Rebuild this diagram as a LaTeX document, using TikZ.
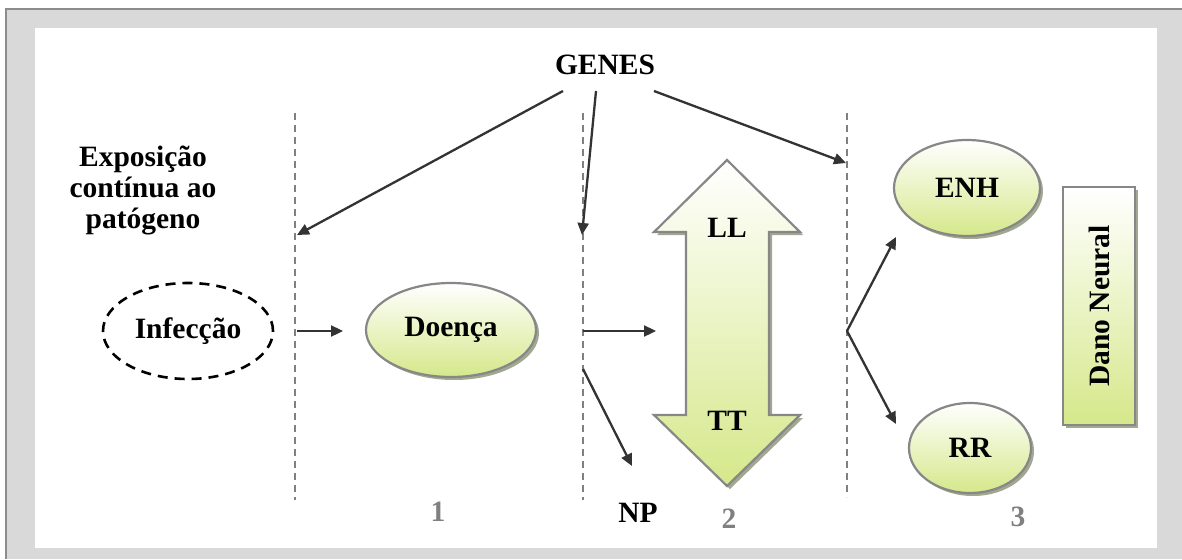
\documentclass[tikz,border=0pt]{standalone}
\usepackage{fontspec}
\setmainfont{Liberation Serif}
\usetikzlibrary{shapes.geometric,arrows.meta,shadows}

\definecolor{framefill}{RGB}{217,217,217}
\definecolor{frameline}{RGB}{140,140,140}
\definecolor{leafgreen}{RGB}{213,232,138}
\definecolor{shapeline}{RGB}{135,135,135}
\definecolor{shadowc}{RGB}{160,168,145}
\definecolor{arrowc}{RGB}{51,51,51}
\definecolor{numgray}{RGB}{128,128,128}

\tikzset{
  lbl/.style={font=\fontsize{29.5}{31}\selectfont\bfseries, text=black},
  numlbl/.style={font=\fontsize{29.5}{31}\selectfont\bfseries, text=numgray, anchor=base},
  greenshape/.style={draw=shapeline, line width=2.2pt, top color=white, bottom color=leafgreen,
    drop shadow={shadow xshift=3pt, shadow yshift=-3pt, fill=shadowc, opacity=1}},
  greenoval/.style={greenshape, ellipse, inner sep=0pt, lbl},
  divider/.style={draw=numgray, line width=1.8pt, dash pattern=on 7pt off 5pt},
  link/.style={draw=arrowc, line width=2.3pt, -{Triangle[length=12pt,width=11pt]}},
}

\begin{document}
\begin{tikzpicture}[x=1pt,y=-1pt]
  \useasboundingbox (0,0) rectangle (1182,559);

  % frame: grey margin with a white working area
  \fill[framefill] (6,9) rectangle (1182,559);
  \draw[frameline, line width=2.5pt] (6,559) -- (6,9) -- (1182,9);
  \fill[white] (35,28) rectangle (1157,548);

  % stage dividers
  \coordinate (d1t) at (295,113); \coordinate (d1b) at (295,500);
  \coordinate (d2t) at (583,113); \coordinate (d2b) at (583,500);
  \coordinate (d3t) at (847,113); \coordinate (d3b) at (847,497);
  \draw[divider] (d1t) -- (d1b);
  \draw[divider] (d2t) -- (d2b);
  \draw[divider] (d3t) -- (d3b);

  % labels
  \node[lbl, anchor=base] (genes) at (605,75) {GENES};
  \node[lbl, align=center, anchor=base] (expo) at (143,228)
    {Exposição\\contínua ao\\patógeno};
  \node[lbl, anchor=base] (np) at (638,522) {NP};
  \node[numlbl] (n1) at (438,521) {1};
  \node[numlbl] (n2) at (729,528) {2};
  \node[numlbl] (n3) at (1018,526) {3};

  % ovals
  \node[ellipse, draw=black, line width=2.6pt, dash pattern=on 10pt off 7pt,
        minimum width=170pt, minimum height=96pt, inner sep=0pt, lbl] (inf) at (188,331) {Infecção};
  \node[greenoval, minimum width=170pt, minimum height=94pt] (doenca) at (451,330) {Doença};
  \node[greenoval, minimum width=146pt, minimum height=96pt] (enh) at (967,188) {ENH};
  \node[greenoval, minimum width=122pt, minimum height=90pt] (rr) at (970,448) {RR};

  % vertical box
  \node[greenshape, rectangle, minimum width=72pt, minimum height=238pt, inner sep=0pt, lbl]
    (dano) at (1099,306) {\rotatebox{90}{Dano Neural}};

  % double arrow LL / TT
  \path[greenshape, line join=miter]
    (727,160) -- (800,232) -- (769,232) -- (769,415) -- (800,415) -- (727,486)
    -- (654,415) -- (686,415) -- (686,232) -- (654,232) -- cycle;
  \node[lbl, anchor=base] (ll) at (727,237) {LL};
  \node[lbl, anchor=base] (tt) at (727,430) {TT};

  % gene influences
  \coordinate (g1) at (563,91); \coordinate (g2) at (596,91); \coordinate (g3) at (654,91);
  \coordinate (e1) at (297,235); \coordinate (e2) at (582,235); \coordinate (e3) at (846,163);
  \draw[link] (g1) -- (e1);
  \draw[link] (g2) -- (e2);
  \draw[link] (g3) -- (e3);

  % progression arrows
  \coordinate (s1) at (297,331); \coordinate (t1) at (343,331);
  \draw[link] (s1) -- (t1);
  \coordinate (s2) at (583,331); \coordinate (t2) at (656,331);
  \draw[link] (s2) -- (t2);
  \coordinate (s3) at (583,369); \coordinate (t3) at (632,466);
  \draw[link] (s3) -- (t3);
  \coordinate (fork) at (847,331);
  \coordinate (t4) at (896,237); \coordinate (t5) at (896,424);
  \draw[link] (fork) -- (t4);
  \draw[link] (fork) -- (t5);
\end{tikzpicture}
\end{document}
